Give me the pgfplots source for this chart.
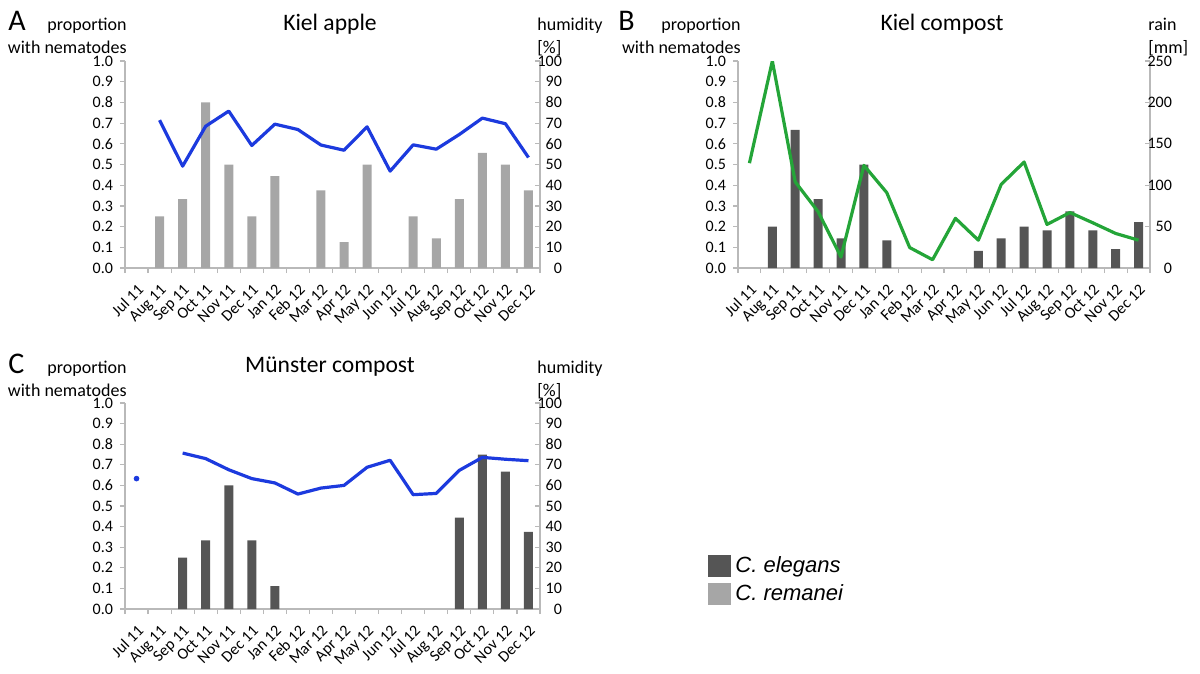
\documentclass[border=0pt]{standalone}
\usepackage{fontspec}
\setmainfont{Carlito}
\newfontfamily\legfont{Liberation Sans}
\usepackage{pgfplots}
\pgfplotsset{compat=1.18}

\definecolor{elegans}{RGB}{85,85,85}
\definecolor{remanei}{RGB}{166,166,166}
\definecolor{humid}{RGB}{28,58,222}
\definecolor{rainc}{RGB}{36,165,56}
\definecolor{axgray}{RGB}{185,185,185}

\pgfplotsset{
  panel/.style={
    scale only axis, anchor=south west,
    width=207.5pt, height=103.5pt,
    xmin=-0.5, xmax=17.5,
    tick label style={font=\fontsize{8}{9.6}\selectfont},
    /pgf/number format/assume math mode=true,
    major tick length=2.5pt, minor tick length=2.5pt,
    axis line style={axgray, line width=0.6pt},
    tick style={axgray, line width=0.6pt},
  },
  leftax/.style={
    panel,
    axis x line*=bottom, axis y line*=left,
    tick align=outside,
    ymin=0, ymax=1,
    ytick={0,0.1,0.2,0.3,0.4,0.5,0.6,0.7,0.8,0.9,1},
    yticklabel style={/pgf/number format/.cd, fixed, fixed zerofill, precision=1},
    xtick={0,...,17},
    xticklabels={Jul 11,Aug 11,Sep 11,Oct 11,Nov 11,Dec 11,Jan 12,Feb 12,Mar 12,
                 Apr 12,May 12,Jun 12,Jul 12,Aug 12,Sep 12,Oct 12,Nov 12,Dec 12},
    xticklabel style={rotate=45, anchor=north east, inner sep=1pt},
    xticklabel shift=3.5pt,
    every major x tick/.append style={draw=none},
    minor xtick={-0.5,0.5,...,17.5},
    ybar, bar width=4.5pt,
  },
  rightax/.style={
    panel,
    axis x line=none, axis y line*=right,
    tick align=inside,
    yticklabel style={anchor=east, xshift=14.5pt},
    ymin=0,
  },
}
\tikzset{
  lbl/.style={font=\fontsize{9}{11}\selectfont, inner sep=0pt},
  ttl/.style={font=\fontsize{11.8}{13}\selectfont, inner sep=0pt},
  letter/.style={font=\fontsize{15}{17}\selectfont, inner sep=0pt},
}

\begin{document}
\begin{tikzpicture}
\useasboundingbox (0pt,0pt) rectangle (600pt,-337pt);

% ---------------- A: Kiel apple ----------------
\begin{axis}[leftax, at={(62.5pt,-134pt)}]
\addplot[fill=remanei, draw=none] coordinates {
  (1,0.25) (2,0.333) (3,0.8) (4,0.5) (5,0.25) (6,0.444) (8,0.375) (9,0.125)
  (10,0.5) (12,0.25) (13,0.143) (14,0.333) (15,0.556) (16,0.5) (17,0.375)
};
\end{axis}
\begin{axis}[rightax, at={(62.5pt,-134pt)}, ymax=100, ytick={0,10,...,100}]
\addplot[humid, line width=1.6pt, line join=round] coordinates {
  (1,71.4) (2,49.2) (3,68.5) (4,75.8) (5,59.2) (6,69.5) (7,66.9) (8,59.4)
  (9,56.9) (10,68.2) (11,46.8) (12,59.5) (13,57.4) (14,64.5) (15,72.4)
  (16,69.7) (17,53.4)
};
\end{axis}
\node[letter, anchor=base west] at (4pt,-15.5pt) {A};
\node[lbl, anchor=base east] at (63.5pt,-15.5pt) {proportion};
\node[lbl, anchor=base east] at (63.5pt,-27pt) {with nematodes};
\node[ttl, anchor=base] at (165pt,-15.3pt) {Kiel apple};
\node[lbl, anchor=base west] at (268.5pt,-15.5pt) {humidity};
\node[lbl, anchor=base west] at (268.5pt,-27pt) {[\%]};

% ---------------- B: Kiel compost ----------------
\begin{axis}[leftax, at={(369pt,-134pt)}, width=206pt]
\addplot[fill=elegans, draw=none] coordinates {
  (1,0.2) (2,0.667) (3,0.333) (4,0.143) (5,0.5) (6,0.133) (10,0.083)
  (11,0.143) (12,0.2) (13,0.182) (14,0.273) (15,0.182) (16,0.091) (17,0.222)
};
\end{axis}
\begin{axis}[rightax, at={(369pt,-134pt)}, width=206pt, ymax=250, ytick={0,50,...,250}]
\addplot[rainc, line width=1.6pt, line join=round] coordinates {
  (0,126.6) (1,250) (2,104) (3,68) (4,13.3) (5,124) (6,91) (7,24.7) (8,10)
  (9,60) (10,33.6) (11,101) (12,128) (13,52.6) (14,67) (15,54.6) (16,41.7)
  (17,33.6)
};
\end{axis}
\node[letter, anchor=base west] at (309pt,-15.5pt) {B};
\node[lbl, anchor=base east] at (370.5pt,-15.5pt) {proportion};
\node[lbl, anchor=base east] at (370.5pt,-27pt) {with nematodes};
\node[ttl, anchor=base] at (471pt,-15.3pt) {Kiel compost};
\node[lbl, anchor=base west] at (574pt,-15.5pt) {rain};
\node[lbl, anchor=base west] at (574pt,-27pt) {[mm]};

% ---------------- C: Münster compost ----------------
\begin{axis}[leftax, at={(62.5pt,-304.5pt)}, height=103pt,
  legend style={draw=none, fill=none, at={(axis description cs:1.405,0.275)},
                anchor=north west, inner sep=0pt, row sep=0.5pt,
                font=\legfont\fontsize{11}{12.5}\selectfont\itshape},
  legend cell align=left,
  legend image code/.code={\fill[#1, draw=none] (0pt,-5.5pt) rectangle (11.5pt,5.5pt);}]
\addplot[fill=elegans, draw=none] coordinates {
  (2,0.25) (3,0.333) (4,0.6) (5,0.333) (6,0.111)
  (14,0.444) (15,0.75) (16,0.667) (17,0.375)
};
\addlegendentry{C. elegans}
\addlegendimage{fill=remanei, draw=none}
\addlegendentry{C. remanei}
\end{axis}
\begin{axis}[rightax, at={(62.5pt,-304.5pt)}, height=103pt, ymax=100, ytick={0,10,...,100}]
\addplot[humid, only marks, mark=*, mark size=1.2pt] coordinates {(0,63.3)};
\addplot[humid, line width=1.6pt, line join=round] coordinates {
  (2,75.7) (3,73) (4,67.6) (5,63.3) (6,61.2) (7,55.8) (8,58.7) (9,60)
  (10,68.8) (11,72.2) (12,55.5) (13,56.1) (14,67.3) (15,73.6) (16,72.7)
  (17,72)
};
\end{axis}
\node[letter, anchor=base west] at (4pt,-186.5pt) {C};
\node[lbl, anchor=base east] at (63.5pt,-186.5pt) {proportion};
\node[lbl, anchor=base east] at (63.5pt,-198pt) {with nematodes};
\node[ttl, anchor=base] at (165pt,-186pt) {Münster compost};
\node[lbl, anchor=base west] at (268.5pt,-186.5pt) {humidity};
\node[lbl, anchor=base west] at (268.5pt,-198pt) {[\%]};

\end{tikzpicture}
\end{document}
